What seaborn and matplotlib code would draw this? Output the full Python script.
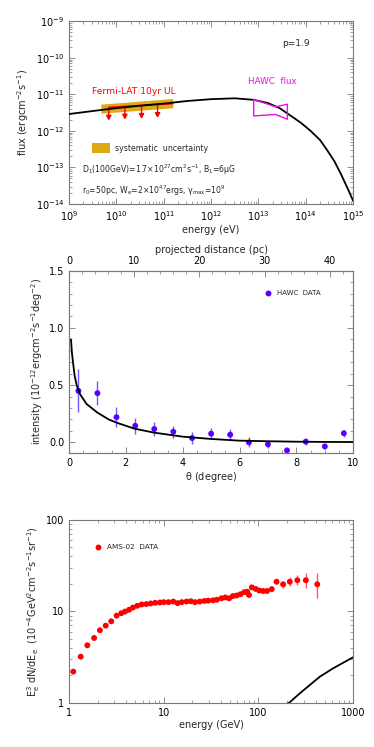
import matplotlib
matplotlib.use("Agg")
import matplotlib.pyplot as plt
import matplotlib.ticker as mticker
import seaborn as sns

# ---- panel 1: gamma-ray SED ----
sed_energy = [1e9, 3.16e9, 1e10, 3.16e10, 1e11, 3.16e11, 1e12, 3.16e12, 7.9e12, 1.58e13,
              2.8e13, 5e13, 7.9e13, 1.26e14, 2e14, 2.8e14, 4e14, 5.6e14, 7.9e14, 1e15]
sed_flux = [2.9e-12, 3.5e-12, 4.2e-12, 4.9e-12, 5.6e-12, 6.6e-12, 7.4e-12, 7.8e-12, 7.1e-12, 5.8e-12,
            4.2e-12, 2.5e-12, 1.66e-12, 1.0e-12, 5.6e-13, 3.0e-13, 1.48e-13, 6.3e-14, 2.4e-14, 1.2e-14]

band_energy = [4.7e9, 1.55e11]
band_low = [3.05e-12, 4.3e-12]
band_high = [5.4e-12, 7.7e-12]

ul_line_energy = [6.9e9, 1.55e11]
ul_line_flux = [4.4e-12, 5.6e-12]
ul_energy = [6.9e9, 1.51e10, 3.4e10, 7.4e10]
ul_flux = [4.4e-12, 4.7e-12, 4.9e-12, 5.2e-12]

hawc_energy = [7.94e12, 2.29e13, 4.07e13, 4.07e13, 2.29e13, 7.94e12, 7.94e12]
hawc_flux = [7.24e-12, 4.57e-12, 5.37e-12, 2.09e-12, 2.82e-12, 2.57e-12, 7.24e-12]

energy_ticks = [1e9, 1e10, 1e11, 1e12, 1e13, 1e14, 1e15]
flux_ticks = [1e-14, 1e-13, 1e-12, 1e-11, 1e-10, 1e-9]

# ---- panel 2: HAWC surface brightness profile ----
theta = [0.33, 1.0, 1.67, 2.33, 3.0, 3.67, 4.33, 5.0, 5.67, 6.33, 7.0, 7.67, 8.33, 9.0, 9.67]
intensity = [0.45, 0.43, 0.22, 0.145, 0.117, 0.093, 0.038, 0.076, 0.067, 0.0, -0.017, -0.07, 0.006, -0.035, 0.08]
intensity_err = [0.187, 0.107, 0.085, 0.069, 0.063, 0.054, 0.05, 0.05, 0.05, 0.044, 0.032, 0.02, 0.03, 0.025, 0.032]

model_theta = [0.07, 0.1, 0.15, 0.2, 0.27, 0.39, 0.62, 1.0, 1.4, 1.7, 2.3, 3.0, 4.0, 5.0, 6.0, 7.0, 8.0, 9.0, 10.0]
model_intensity = [0.9, 0.79, 0.68, 0.58, 0.5, 0.42, 0.335, 0.26, 0.2, 0.17, 0.12, 0.085, 0.05, 0.03,
                   0.015, 0.01, 0.006, 0.004, 0.003]
pc_per_degree = 4.36
pc_ticks = [0, 10, 20, 30, 40]

# ---- panel 3: AMS-02 positrons ----
ams_energy = [1.11, 1.33, 1.56, 1.84, 2.12, 2.44, 2.79, 3.18, 3.56, 3.90,
              4.30, 4.73, 5.25, 5.85, 6.55, 7.28, 8.13, 9.12, 10.0, 11.2,
              12.6, 14.0, 15.5, 17.4, 19.3, 21.4, 24.0, 26.9, 29.5, 33.1,
              36.3, 40.7, 44.7, 49.0, 53.7, 58.9, 64.6, 70.8, 75.9, 79.4,
              85.1, 93.3, 102, 112, 123, 138, 155, 182, 214, 257, 316, 417]
ams_flux = [2.19, 3.19, 4.25, 5.11, 6.21, 6.97, 7.78, 8.97, 9.54, 9.94,
            10.4, 11.0, 11.5, 11.9, 12.0, 12.2, 12.4, 12.5, 12.6, 12.6,
            12.8, 12.3, 12.6, 12.8, 12.9, 12.6, 12.8, 13.0, 13.1, 13.2,
            13.4, 13.9, 14.2, 13.9, 14.7, 14.9, 15.4, 16.2, 16.4, 15.1,
            18.3, 17.6, 16.9, 16.7, 16.7, 17.5, 21.1, 19.8, 21.1, 21.9, 21.9, 19.8]
ams_err_low = [0.05, 0.06, 0.08, 0.09, 0.1, 0.1, 0.1, 0.12, 0.12, 0.12,
               0.12, 0.13, 0.13, 0.14, 0.14, 0.14, 0.15, 0.15, 0.15, 0.15,
               0.16, 0.16, 0.17, 0.17, 0.18, 0.18, 0.2, 0.2, 0.22, 0.24,
               0.26, 0.28, 0.3, 0.32, 0.35, 0.4, 0.45, 0.5, 0.55, 0.6,
               0.6, 0.6, 0.6, 0.65, 0.7, 0.8, 1.0, 1.7, 2.2, 2.4, 4.0, 5.7]
ams_err_high = [0.05, 0.06, 0.08, 0.09, 0.1, 0.1, 0.1, 0.12, 0.12, 0.12,
                0.12, 0.13, 0.13, 0.14, 0.14, 0.14, 0.15, 0.15, 0.15, 0.15,
                0.16, 0.16, 0.17, 0.17, 0.18, 0.18, 0.2, 0.2, 0.22, 0.24,
                0.26, 0.28, 0.3, 0.32, 0.35, 0.4, 0.45, 0.5, 0.55, 0.6,
                0.6, 0.6, 0.6, 0.65, 0.7, 0.8, 1.0, 1.4, 2.4, 3.1, 4.6, 6.3]

model_e = [200, 211, 274, 445, 614, 1000]
model_ams = [0.97, 1.0, 1.27, 1.93, 2.38, 3.15]

gev_ticks = [1, 10, 100, 1000]
ams_ticks = [1, 10, 100]

# ---- style ----
sns.set_style("ticks")
plt.rcParams.update({
    "font.family": ["DejaVu Sans"],
    "font.size": 7,
    "axes.edgecolor": "#7a7a7a",
    "axes.linewidth": 0.8,
    "xtick.direction": "in",
    "ytick.direction": "in",
    "xtick.top": True,
    "ytick.right": True,
    "xtick.color": "#7a7a7a",
    "ytick.color": "#7a7a7a",
    "xtick.labelcolor": "black",
    "ytick.labelcolor": "black",
    "xtick.labelsize": 7,
    "ytick.labelsize": 7,
    "xtick.major.size": 4,
    "ytick.major.size": 4,
    "xtick.minor.size": 2,
    "ytick.minor.size": 2,
    "xtick.major.width": 0.6,
    "ytick.major.width": 0.6,
    "xtick.minor.width": 0.5,
    "ytick.minor.width": 0.5,
    "axes.labelsize": 7,
    "mathtext.default": "regular",
})

fig = plt.figure(figsize=(3.74, 7.47), dpi=100)
left, width = 0.1845, 0.760
ax1 = fig.add_axes([left, 0.7269, width, 0.2446])
ax2 = fig.add_axes([left, 0.394, width, 0.2436])
ax3 = fig.add_axes([left, 0.0593, width, 0.2446])

log_minor = mticker.LogLocator(base=10, subs=range(2, 10), numticks=30)

# ---- panel 1 ----
ax1.set_xscale("log")
ax1.set_yscale("log")
ax1.fill_between(band_energy, band_low, band_high, color="#dcaa14", lw=0, zorder=1)
sns.lineplot(x=ul_line_energy, y=ul_line_flux, ax=ax1, color="red", lw=1.2, zorder=2)
for e, f in zip(ul_energy, ul_flux):
    ax1.annotate("", xy=(e, f), xytext=(0, -9.5), textcoords="offset points",
                 arrowprops=dict(arrowstyle="<|-,head_width=0.22,head_length=0.4",
                                 color="red", lw=1.0, shrinkA=0, shrinkB=0))
sns.lineplot(x=sed_energy, y=sed_flux, ax=ax1, color="black", lw=1.3, sort=False,
             estimator=None, zorder=3)
sns.lineplot(x=hawc_energy, y=hawc_flux, ax=ax1, color="#e810e8", lw=1.0, sort=False,
             estimator=None, zorder=4)
ax1.set_xlim(1e9, 1e15)
ax1.set_ylim(1e-14, 1e-9)
ax1.set_xticks(energy_ticks)
ax1.set_yticks(flux_ticks)
ax1.xaxis.set_minor_locator(log_minor)
ax1.yaxis.set_minor_locator(mticker.LogLocator(base=10, subs=range(2, 10), numticks=30))
ax1.xaxis.set_minor_formatter(mticker.NullFormatter())
ax1.yaxis.set_minor_formatter(mticker.NullFormatter())
ax1.set_xlabel("energy (eV)", labelpad=2)
ax1.set_ylabel("flux (ergcm$^{-2}$s$^{-1}$)", labelpad=3)

ax1.text(0.749, 0.876, "p=1.9", transform=ax1.transAxes, fontsize=6.5, va="center")
ax1.text(0.630, 0.673, "HAWC  flux", transform=ax1.transAxes, fontsize=6.3, va="center",
         color="#e810e8")
ax1.text(0.081, 0.618, "Fermi-LAT 10yr UL", transform=ax1.transAxes, fontsize=6.6,
         va="center", color="red")
ax1.add_patch(plt.Rectangle((0.081, 0.279), 0.063, 0.055, transform=ax1.transAxes,
                            color="#dcaa14", lw=0))
ax1.text(0.162, 0.306, "systematic  uncertainty", transform=ax1.transAxes, fontsize=5.6,
         va="center")
ax1.text(0.046, 0.186, r"D$_1$(100GeV)=1.7$\times$10$^{27}$cm$^2$s$^{-1}$, B$_1$=6$\mu$G",
         transform=ax1.transAxes, fontsize=5.6, va="center")
ax1.text(0.046, 0.071, r"r$_0$=50pc, W$_e$=2$\times$10$^{47}$ergs, $\gamma_{max}$=10$^9$",
         transform=ax1.transAxes, fontsize=5.6, va="center")

# ---- panel 2 ----
ax2.errorbar(theta, intensity, yerr=intensity_err, fmt="none", ecolor="#6a5cff",
             elinewidth=1.0, zorder=2)
sns.scatterplot(x=theta, y=intensity, ax=ax2, color="#5a00ff", s=18, edgecolor="none", zorder=3)
sns.lineplot(x=model_theta, y=model_intensity, ax=ax2, color="black", lw=1.3, zorder=4)
ax2.set_xlim(0, 10)
ax2.set_ylim(-0.09, 1.5)
ax2.set_xticks([0, 2, 4, 6, 8, 10])
ax2.xaxis.set_minor_locator(mticker.MultipleLocator(0.5))
ax2.set_yticks([0.0, 0.5, 1.0, 1.5])
ax2.yaxis.set_minor_locator(mticker.MultipleLocator(0.1))
ax2.yaxis.set_major_formatter(mticker.FormatStrFormatter("%.1f"))
ax2.tick_params(axis="x", which="both", top=False)
ax2.set_xlabel(r"$\theta$ (degree)", labelpad=2)
ax2.set_ylabel("intensity (10$^{-12}$ergcm$^{-2}$s$^{-1}$deg$^{-2}$)", labelpad=3)

top = ax2.twiny()
top.set_xlim(0, 10 * pc_per_degree)
top.set_xticks(pc_ticks)
top.xaxis.set_minor_locator(mticker.MultipleLocator(2))
top.tick_params(axis="x", which="both", direction="in", top=True, bottom=False)
top.set_xlabel("projected distance (pc)", labelpad=2)

ax2.scatter([0.70], [0.877], transform=ax2.transAxes, s=18, color="#5a00ff", lw=0)
ax2.text(0.732, 0.877, "HAWC  DATA", transform=ax2.transAxes, fontsize=5.0, va="center")

# ---- panel 3 ----
ax3.set_xscale("log")
ax3.set_yscale("log")
ax3.errorbar(ams_energy, ams_flux, yerr=[ams_err_low, ams_err_high], fmt="none",
             ecolor="#ff5a5a", elinewidth=1.0, zorder=2)
sns.scatterplot(x=ams_energy, y=ams_flux, ax=ax3, color="red", s=18, edgecolor="none", zorder=3)
sns.lineplot(x=model_e, y=model_ams, ax=ax3, color="black", lw=1.3, zorder=4)
ax3.set_xlim(1, 1000)
ax3.set_ylim(1, 100)
ax3.set_xticks(gev_ticks)
ax3.set_yticks(ams_ticks)
ax3.xaxis.set_minor_locator(mticker.LogLocator(base=10, subs=range(2, 10), numticks=30))
ax3.yaxis.set_minor_locator(mticker.LogLocator(base=10, subs=range(2, 10), numticks=30))
ax3.set_xticklabels([str(t) for t in gev_ticks])
ax3.set_yticklabels([str(t) for t in ams_ticks])
ax3.xaxis.set_minor_formatter(mticker.NullFormatter())
ax3.yaxis.set_minor_formatter(mticker.NullFormatter())
ax3.set_xlabel("energy (GeV)", labelpad=2)
ax3.set_ylabel("E$_e^3$ dN/dE$_e$  (10$^{-4}$GeV$^2$cm$^{-2}$s$^{-1}$sr$^{-1}$)", labelpad=3)
ax3.scatter([0.101], [0.854], transform=ax3.transAxes, s=18, color="red", lw=0)
ax3.text(0.133, 0.854, "AMS-02  DATA", transform=ax3.transAxes, fontsize=5.2, va="center")

fig.savefig("out.png", dpi=100)
